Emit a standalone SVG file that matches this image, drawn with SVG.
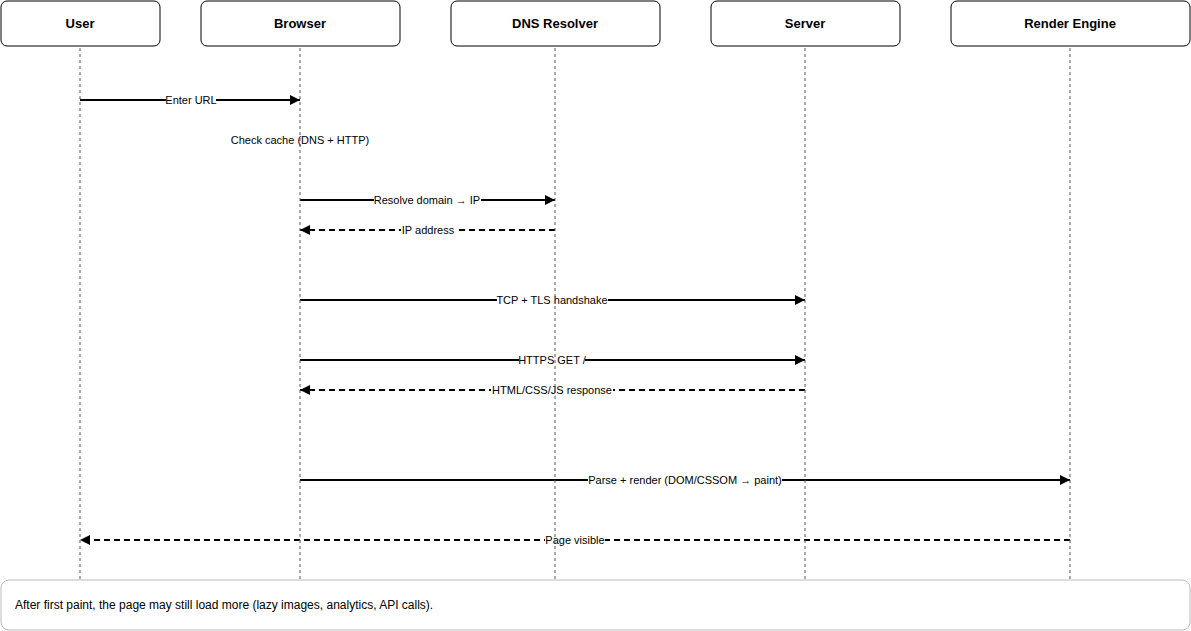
<svg xmlns="http://www.w3.org/2000/svg" width="1191" height="631" viewBox="0 0 1191 631">
<style>
.actor rect{fill:#fff;stroke:#000;stroke-width:1}
.actor text{font-family:"Liberation Sans",Arial,sans-serif;font-size:13px;font-weight:bold;text-anchor:middle;fill:#000}
.life{stroke:#555;stroke-width:1;stroke-dasharray:3,3;fill:none}
.msg{stroke:#000;stroke-width:2;fill:none}
.dash{stroke-dasharray:6,4}
.lbl{font-family:"Liberation Sans",Arial,sans-serif;font-size:11px;text-anchor:middle;fill:#000}
.lblbg{fill:#fff}
.note rect{fill:#fff;stroke:#bbb;stroke-width:1}
.note text{font-family:"Liberation Sans",Arial,sans-serif;font-size:12px;fill:#000}
</style>
<defs>
<marker id="ah" markerUnits="userSpaceOnUse" markerWidth="11" markerHeight="10" refX="10" refY="5" orient="auto">
<path d="M0,0 L10,5 L0,10 z" fill="#000"/>
</marker>
</defs>
<rect width="1191" height="631" fill="#fff"/>
<g id="user" class="actor"><rect x="1" y="1" width="159" height="45" rx="6"/><text x="80" y="28">User</text></g>
<g id="browser" class="actor"><rect x="201" y="1" width="199" height="45" rx="6"/><text x="300" y="28">Browser</text></g>
<g id="dns" class="actor"><rect x="451" y="1" width="209" height="45" rx="6"/><text x="555" y="28">DNS Resolver</text></g>
<g id="server" class="actor"><rect x="711" y="1" width="189" height="45" rx="6"/><text x="805" y="28">Server</text></g>
<g id="render" class="actor"><rect x="951" y="1" width="239" height="45" rx="6"/><text x="1070" y="28">Render Engine</text></g>
<g id="connectors">
<line class="msg" x1="80" y1="100" x2="300" y2="100" marker-end="url(#ah)"/>
<rect class="lblbg" x="166" y="94" width="50" height="12"/>
<text class="lbl" x="191" y="104">Enter URL</text>
<text class="lbl" x="300" y="144">Check cache (DNS + HTTP)</text>
<line class="msg" x1="300" y1="200" x2="555" y2="200" marker-end="url(#ah)"/>
<rect class="lblbg" x="374" y="194" width="107" height="12"/>
<text class="lbl" x="427" y="204">Resolve domain → IP</text>
<line class="msg dash" x1="555" y1="230" x2="300" y2="230" marker-end="url(#ah)"/>
<rect class="lblbg" x="401" y="224" width="54" height="12"/>
<text class="lbl" x="428" y="234">IP address</text>
<line class="msg" x1="300" y1="300" x2="805" y2="300" marker-end="url(#ah)"/>
<rect class="lblbg" x="497" y="294" width="111" height="12"/>
<text class="lbl" x="552" y="304">TCP + TLS handshake</text>
<line class="msg" x1="300" y1="360" x2="805" y2="360" marker-end="url(#ah)"/>
<rect class="lblbg" x="519" y="354" width="66" height="12"/>
<text class="lbl" x="552" y="364">HTTPS GET /</text>
<line class="msg dash" x1="805" y1="390" x2="300" y2="390" marker-end="url(#ah)"/>
<rect class="lblbg" x="491" y="384" width="122" height="12"/>
<text class="lbl" x="552" y="394">HTML/CSS/JS response</text>
<line class="msg" x1="300" y1="480" x2="1070" y2="480" marker-end="url(#ah)"/>
<rect class="lblbg" x="588" y="474" width="194" height="12"/>
<text class="lbl" x="685" y="484">Parse + render (DOM/CSSOM → paint)</text>
<line class="msg dash" x1="1070" y1="540" x2="80" y2="540" marker-end="url(#ah)"/>
<rect class="lblbg" x="545" y="534" width="60" height="12"/>
<text class="lbl" x="575" y="544">Page visible</text>
</g>
<g id="lifelines">
<line class="life" x1="80" y1="48" x2="80" y2="580"/>
<line class="life" x1="300" y1="48" x2="300" y2="580"/>
<line class="life" x1="555" y1="48" x2="555" y2="580"/>
<line class="life" x1="805" y1="48" x2="805" y2="580"/>
<line class="life" x1="1070" y1="48" x2="1070" y2="580"/>
</g>
<g id="note" class="note"><rect x="1" y="580" width="1189" height="50" rx="8"/><text x="15" y="609">After first paint, the page may still load more (lazy images, analytics, API calls).</text></g>
</svg>
